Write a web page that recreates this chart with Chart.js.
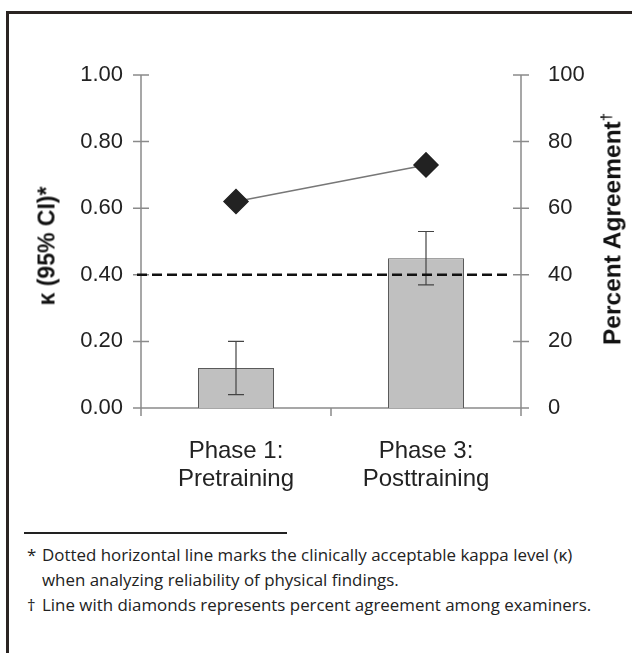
<!DOCTYPE html>
<html>
<head>
<meta charset="utf-8">
<script src="https://cdn.jsdelivr.net/npm/chart.js@4.4.1/dist/chart.umd.min.js"></script>
<style>
  body { margin: 0; background: #fff; width: 632px; height: 653px; overflow: hidden; position: relative; font-family: "Liberation Sans", Arial, sans-serif; }
  #frame { position: absolute; left: 6px; top: 11px; width: 700px; height: 700px; border: 3px solid #2a2422; box-sizing: border-box; }
  #wrap { position: absolute; left: 0; top: 0; width: 632px; height: 520px; }
  .ytitle { position: absolute; font-weight: bold; font-size: 23px; color: #111; white-space: nowrap; transform: translate(-50%, -50%) rotate(-90deg); }
  .ytitle sup { font-size: 15px; }
  #rule { position: absolute; left: 24px; top: 532px; width: 263px; height: 1.5px; background: #222; }
  .note { position: absolute; left: 27px; font-family: "Open Sans", sans-serif; font-size: 16.9px; color: #222; white-space: nowrap; }
  .note .mark { display: inline-block; width: 15px; }
</style>
</head>
<body>
<div id="frame"></div>
<div id="wrap"><canvas id="chart" width="632" height="520"></canvas></div>
<div class="ytitle" style="left:47px; top:246px;">κ (95% CI)*</div>
<div class="ytitle" style="left:612px; top:229px; font-size:24.5px;">Percent Agreement<sup>†</sup></div>
<div id="rule"></div>
<div class="note" style="top:543px;"><span class="mark">*</span>Dotted horizontal line marks the clinically acceptable kappa level (κ)</div>
<div class="note" style="top:568px;"><span class="mark"></span>when analyzing reliability of physical findings.</div>
<div class="note" style="top:593px;"><span class="mark">†</span>Line with diamonds represents percent agreement among examiners.</div>
<script>
// values
const categories     = [['Phase 1:', 'Pretraining'], ['Phase 3:', 'Posttraining']];
const kappa          = [0.12, 0.45];
const kappaLow       = [0.04, 0.37];
const kappaHigh      = [0.20, 0.53];
const agreement      = [62, 73];
const acceptable     = 0.40;
const kappaTicks     = [0, 0.2, 0.4, 0.6, 0.8, 1.0];
const agreementTicks = [0, 20, 40, 60, 80, 100];

const FAMILY = '"Liberation Sans", Arial, sans-serif';
const TICK_FONT = { family: FAMILY, size: 22 };
const CAT_FONT  = { family: FAMILY, size: 24, lineHeight: 1.15 };
const AXIS = '#8a8a8a';

// error bars + reference line, drawn right after the bars
const overlay = {
  id: 'overlay',
  afterDatasetDraw(chart, args) {
    if (args.index !== 0) return;
    const { ctx, chartArea: a, scales: { x, y } } = chart;
    ctx.save();
    ctx.strokeStyle = '#444';
    ctx.lineWidth = 1.2;
    kappa.forEach((v, i) => {
      const px = x.getPixelForValue(i);
      const lo = y.getPixelForValue(kappaLow[i]);
      const hi = y.getPixelForValue(kappaHigh[i]);
      ctx.beginPath();
      ctx.moveTo(px, lo); ctx.lineTo(px, hi);
      ctx.moveTo(px - 8, lo); ctx.lineTo(px + 8, lo);
      ctx.moveTo(px - 8, hi); ctx.lineTo(px + 8, hi);
      ctx.stroke();
    });
    const ly = y.getPixelForValue(acceptable);
    ctx.strokeStyle = '#111';
    ctx.lineWidth = 2.5;
    ctx.setLineDash([10, 5]);
    ctx.beginPath();
    ctx.moveTo(a.left - 4, ly); ctx.lineTo(a.right - 13, ly);
    ctx.stroke();
    ctx.restore();
  },
  // axes: lines run a little past the baseline, ticks cross the axis
  beforeDatasetsDraw(chart) {
    const { ctx, chartArea: a, scales: { x, y, y2 } } = chart;
    ctx.save();
    ctx.strokeStyle = AXIS;
    ctx.lineWidth = 1.5;
    ctx.beginPath();
    ctx.moveTo(a.left, a.top); ctx.lineTo(a.left, a.bottom + 8);
    ctx.moveTo(a.right, a.top); ctx.lineTo(a.right, a.bottom + 8);
    ctx.moveTo(a.left - 8, a.bottom); ctx.lineTo(a.right + 8, a.bottom);
    kappaTicks.forEach(v => {
      const py = y.getPixelForValue(v);
      ctx.moveTo(a.left - 8, py); ctx.lineTo(a.left + 8, py);
    });
    agreementTicks.forEach(v => {
      const py = y2.getPixelForValue(v);
      ctx.moveTo(a.right - 8, py); ctx.lineTo(a.right + 8, py);
    });
    const mid = (x.getPixelForValue(0) + x.getPixelForValue(1)) / 2;
    ctx.moveTo(mid, a.bottom); ctx.lineTo(mid, a.bottom + 8);
    ctx.stroke();
    ctx.restore();
  }
};

new Chart(document.getElementById('chart'), {
  data: {
    labels: categories,
    datasets: [
      {
        type: 'bar',
        data: kappa,
        yAxisID: 'y',
        backgroundColor: '#c0c0c0',
        borderColor: '#5a5a5a',
        borderWidth: 1,
        barPercentage: 0.4,
        categoryPercentage: 1.0,
        order: 2,
      },
      {
        type: 'line',
        data: agreement,
        yAxisID: 'y2',
        borderColor: '#777',
        borderWidth: 1.5,
        pointStyle: 'rectRot',
        pointRadius: 12,
        pointBackgroundColor: '#222',
        pointBorderColor: '#222',
        order: 1,
      },
    ],
  },
  options: {
    responsive: false,
    animation: false,
    layout: { padding: { top: 75, left: 0, right: 0, bottom: 0 } },
    plugins: { legend: { display: false }, tooltip: { enabled: false } },
    scales: {
      x: {
        grid: { display: false, drawTicks: false },
        border: { display: false },
        ticks: { font: CAT_FONT, color: '#222', padding: 30 },
        afterFit: s => { s.height = 112; },
      },
      y: {
        position: 'left', min: 0, max: 1,
        afterBuildTicks: s => { s.ticks = kappaTicks.map(v => ({ value: v })); },
        ticks: { font: TICK_FONT, color: '#222', padding: 18, callback: v => v.toFixed(2) },
        grid: { display: false, drawTicks: false },
        border: { display: false },
        afterFit: s => { s.width = 141; },
      },
      y2: {
        position: 'right', min: 0, max: 100,
        afterBuildTicks: s => { s.ticks = agreementTicks.map(v => ({ value: v })); },
        ticks: { font: TICK_FONT, color: '#222', padding: 27 },
        grid: { display: false, drawTicks: false },
        border: { display: false },
        afterFit: s => { s.width = 111; },
      },
    },
  },
  plugins: [overlay],
});
</script>
</body>
</html>
